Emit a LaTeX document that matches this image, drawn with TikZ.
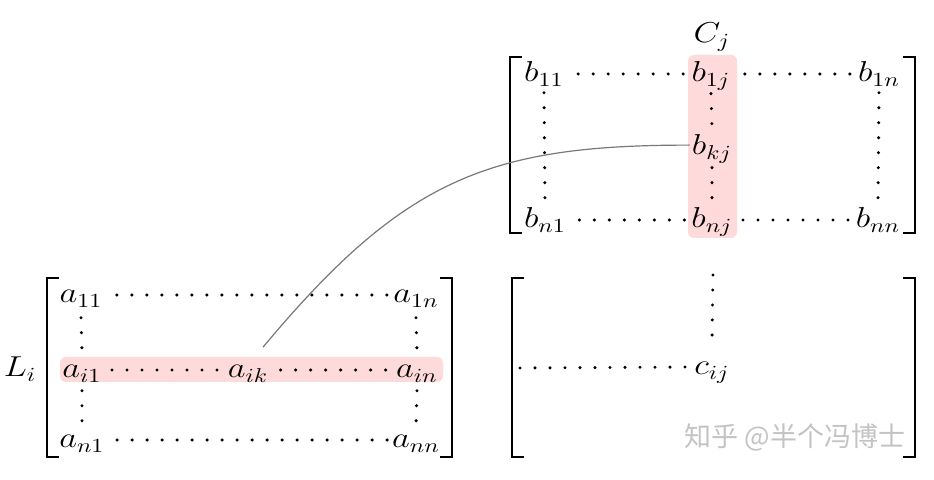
\documentclass[tikz,border=0pt]{standalone}
\usepackage{fontspec}
\newfontfamily\cjkfont{Noto Sans CJK SC}
\usetikzlibrary{calc}
\definecolor{hl}{RGB}{255,218,218}
\definecolor{curvegray}{RGB}{120,120,120}
\definecolor{wm}{RGB}{195,195,195}
\newcommand\hstr[1]{\scalebox{1.2}[1]{$#1$}}
\begin{document}
\begin{tikzpicture}[x=0.5pt,y=-0.5pt,
  m/.style={inner sep=0pt, anchor=base, font=\fontsize{14.4}{17}\selectfont},
  dotsline/.style={line width=1.7pt, line cap=round, dash pattern=on 0pt off 7.5pt},
  brk/.style={line width=1.3pt},
  hlbox/.style={fill=hl, rounded corners=3pt}]
\useasboundingbox (0,0) rectangle (934,480);
% highlights
\fill[hlbox] (688,55) rectangle (737,238);
\fill[hlbox] (60,357) rectangle (443,382);
% brackets
\draw[brk] (522,57) -- (510,57) -- (510,233) -- (522,233);
\draw[brk] (903,57) -- (915,57) -- (915,233) -- (903,233);
\draw[brk] (59,278) -- (47,278) -- (47,457) -- (59,457);
\draw[brk] (440,278) -- (452,278) -- (452,457) -- (440,457);
\draw[brk] (524,278) -- (512,278) -- (512,457) -- (524,457);
\draw[brk] (903,278) -- (915,278) -- (915,457) -- (903,457);
% B matrix
\node[m] (Cj) at (712,43) {\hstr{C_j}};
\node[m] (b11) at (544,82) {\hstr{b_{11}}};
\node[m] (b1j) at (711,82) {\hstr{b_{1j}}};
\node[m] (b1n) at (879,82) {\hstr{b_{1n}}};
\node[m] (bkj) at (712,155) {\hstr{b_{kj}}};
\node[m] (bn1) at (545,228) {\hstr{b_{n1}}};
\node[m] (bnj) at (712,228) {\hstr{b_{nj}}};
\node[m] (bnn) at (878,228) {\hstr{b_{nn}}};
\draw[dotsline] ([xshift=7pt,yshift=4pt]b11.base east) -- ([xshift=-3pt,yshift=4pt]b1j.base west);
\draw[dotsline] ([xshift=7pt,yshift=4pt]b1j.base east) -- ([xshift=-2.5pt,yshift=4pt]b1n.base west);
\draw[dotsline] ([xshift=6.5pt,yshift=4pt]bn1.base east) -- ([xshift=-2pt,yshift=4pt]bnj.base west);
\draw[dotsline] ([xshift=5pt,yshift=4pt]bnj.base east) -- ([xshift=-2.5pt,yshift=4pt]bnn.base west);
\draw[dotsline] ([yshift=-3pt]b11.south) -- ([yshift=2.5pt]bn1.north);
\draw[dotsline] ([yshift=-1.5pt]b1j.south) -- ([yshift=3.5pt]bkj.north);
\draw[dotsline] ([yshift=-2pt]bkj.south) -- ([yshift=4pt]bnj.north);
\draw[dotsline] ([yshift=-3pt]b1n.south) -- ([yshift=2.5pt]bnn.north);
% A matrix
\node[m] (Li) at (20,377) {\hstr{L_i}};
\node[m] (a11) at (81,303) {\hstr{a_{11}}};
\node[m] (a1n) at (416,303) {\hstr{a_{1n}}};
\node[m] (ai1) at (82,378) {\hstr{a_{i1}}};
\node[m] (aik) at (248,378) {\hstr{a_{ik}}};
\node[m] (ain) at (417,378) {\hstr{a_{in}}};
\node[m] (an1) at (82,448) {\hstr{a_{n1}}};
\node[m] (ann) at (416,448) {\hstr{a_{nn}}};
\draw[dotsline] ([xshift=7pt,yshift=4pt]a11.base east) -- ([xshift=-1.5pt,yshift=4pt]a1n.base west);
\draw[dotsline] ([xshift=5pt,yshift=4pt]ai1.base east) -- ([xshift=-3pt,yshift=4pt]aik.base west);
\draw[dotsline] ([xshift=6pt,yshift=4pt]aik.base east) -- ([xshift=-2.5pt,yshift=4pt]ain.base west);
\draw[dotsline] ([xshift=6pt,yshift=4pt]an1.base east) -- ([xshift=-1pt,yshift=4pt]ann.base west);
\draw[dotsline] ([yshift=-5pt]a11.south) -- ([yshift=6.5pt]ai1.north);
\draw[dotsline] ([yshift=-4pt]ai1.south) -- ([yshift=5pt]an1.north);
\draw[dotsline] ([yshift=-5pt]a1n.south) -- ([yshift=7pt]ain.north);
\draw[dotsline] ([yshift=-4pt]ain.south) -- ([yshift=5pt]ann.north);
% C matrix
\node[m] (cij) at (712,375) {\hstr{c_{ij}}};
\coordinate (cL) at (520,368);
\coordinate (cT) at (713,275);
\draw[dotsline] (cL) -- ([xshift=-2pt,yshift=4pt]cij.base west);
\draw[dotsline] (cT) -- ([yshift=11.5pt]cij.north);
% curve
\draw[curvegray, line width=0.6pt] ($(aik.north)+(15,-18)$) .. controls +(141,-169) and +(-200,0) .. ($(bkj.west)+(-2,-4)$);
% watermark
\node[font=\cjkfont\fontsize{13.5}{16}\selectfont, text=wm, inner sep=0pt] (wmk) at (795,437) {知乎 @半个冯博士};
\end{tikzpicture}
\end{document}
